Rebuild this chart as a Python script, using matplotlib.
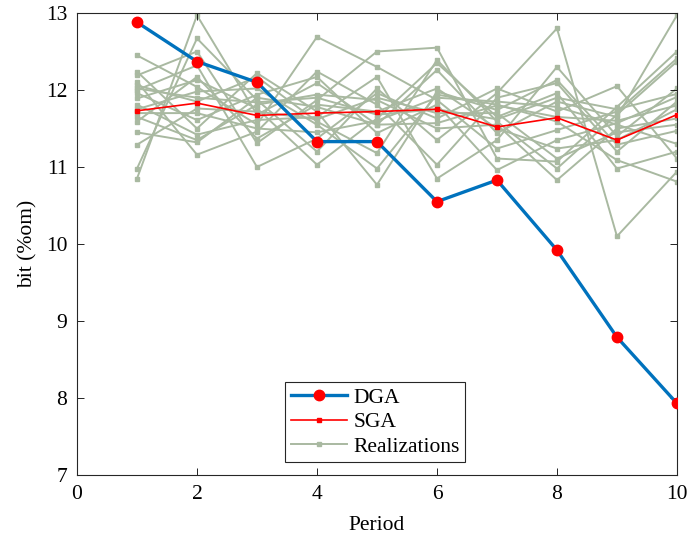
import matplotlib.pyplot as plt
import numpy as np

plt.rcParams['font.family'] = ['Liberation Serif', 'DejaVu Serif']

# Data
periods = np.arange(1, 11)
dga = [12.88, 12.37, 12.10, 11.33, 11.33, 10.55, 10.83, 9.92, 8.79, 7.93]
sga = [11.73, 11.83, 11.67, 11.70, 11.72, 11.75, 11.52, 11.64, 11.35, 11.68]

realizations = [
    [10.85, 12.97, 11.68, 12.09, 11.55, 12.26, 11.44, 11.85, 11.65, 12.97],
    [10.98, 12.67, 11.87, 11.20, 12.02, 11.35, 11.96, 12.80, 10.10, 10.94],
    [12.45, 12.04, 11.55, 12.69, 12.30, 11.87, 11.24, 11.48, 11.72, 12.41],
    [12.24, 11.50, 12.22, 11.72, 10.77, 11.98, 11.74, 12.13, 11.29, 11.47],
    [12.19, 12.50, 11.31, 11.87, 12.50, 12.55, 11.11, 11.07, 11.78, 12.50],
    [12.11, 11.16, 11.46, 12.24, 11.81, 11.03, 11.90, 12.09, 11.20, 11.85],
    [12.06, 11.85, 12.17, 11.59, 11.18, 12.39, 11.59, 10.98, 11.68, 12.37],
    [12.00, 12.32, 11.00, 11.37, 11.96, 11.63, 12.02, 11.72, 12.05, 11.11],
    [11.96, 11.61, 11.94, 12.17, 11.44, 11.81, 10.96, 11.35, 11.57, 11.91],
    [11.89, 12.13, 11.76, 11.03, 11.63, 12.35, 11.65, 11.96, 10.98, 11.20],
    [11.81, 11.42, 11.61, 11.65, 12.17, 10.85, 11.35, 12.30, 11.40, 12.02],
    [11.75, 11.98, 12.02, 11.55, 10.98, 11.94, 11.81, 11.59, 11.09, 10.81],
    [11.65, 11.35, 11.81, 11.94, 11.87, 11.50, 11.55, 10.83, 11.50, 11.63],
    [11.59, 12.17, 11.37, 11.81, 11.72, 12.02, 11.50, 11.24, 11.35, 11.75],
    [11.45, 11.32, 11.90, 11.78, 11.55, 11.57, 11.80, 11.65, 11.60, 11.80],
    [11.29, 11.76, 11.72, 11.62, 11.90, 11.70, 11.70, 11.11, 11.45, 11.55],
    [12.02, 11.90, 11.84, 11.90, 11.68, 11.75, 11.62, 11.90, 11.75, 11.95],
    [11.70, 11.70, 11.50, 11.45, 11.60, 11.90, 11.85, 11.78, 11.55, 11.30],
]

fig = plt.figure(figsize=(6.9, 5.42), dpi=100)
ax = fig.add_axes([0.1116, 0.1236, 0.8695, 0.8524])

real_color = '#a9b9a1'
for i, r in enumerate(realizations):
    ax.plot(periods, r, color=real_color, lw=1.4, marker='s', markersize=2.2,
            label='Realizations' if i == 0 else None, zorder=1)

ax.plot(periods, sga, color='#ff0000', lw=1.2, marker='s', markersize=2.8,
        label='SGA', zorder=3)
ax.plot(periods, dga, color='#0072bd', lw=2.4, marker='o', markersize=7.5,
        markerfacecolor='#ff0000', markeredgecolor='#ff0000', label='DGA', zorder=4)

ax.set_xlim(0, 10)
ax.set_ylim(7, 13)
ax.set_xticks(range(0, 11, 2))
ax.set_yticks(range(7, 14))
ax.tick_params(direction='in', top=True, right=True, labelsize=15.5, length=5,
               width=0.6, pad=7)
for s in ax.spines.values():
    s.set_linewidth(0.8)
    s.set_color('#262626')

ax.set_xlabel('Period', fontsize=15.5, labelpad=9)
ax.set_ylabel('bit (%om)', fontsize=15.5, labelpad=6)

h, l = ax.get_legend_handles_labels()
order = [l.index('DGA'), l.index('SGA'), l.index('Realizations')]
leg = ax.legend([h[i] for i in order], [l[i] for i in order], loc='lower center',
                bbox_to_anchor=(0.497, 0.028), fontsize=15.5, fancybox=False,
                framealpha=1, edgecolor='#262626', handlelength=2.6,
                borderpad=0.25, labelspacing=0.2, handletextpad=0.3,
                borderaxespad=0)
leg.get_frame().set_linewidth(0.8)

fig.savefig('out.png', dpi=100)
